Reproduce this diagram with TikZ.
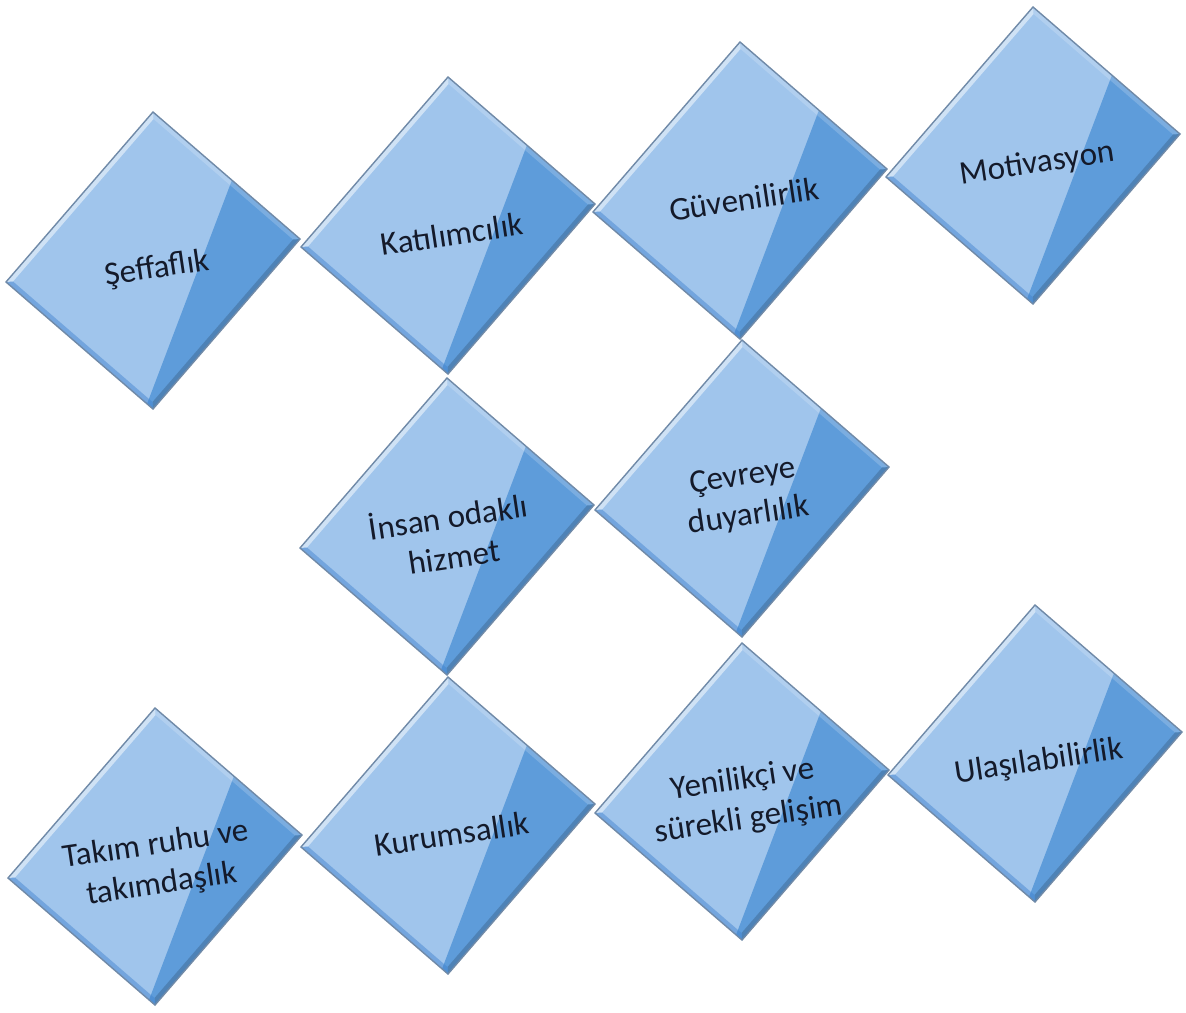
\documentclass[tikz,border=0pt]{standalone}
\usepackage{fontspec}
\setmainfont{Carlito}
\definecolor{lightfill}{RGB}{160,197,236}
\definecolor{darkfill}{RGB}{94,156,218}
\definecolor{edgecol}{RGB}{112,138,168}
\definecolor{bevelblue}{RGB}{62,128,205}
\definecolor{txtcol}{RGB}{20,26,42}
\tikzset{
  boxedge/.style={draw=edgecol,line width=1.4pt,line join=miter},
  lbl/.style={text=txtcol,font=\fontsize{33}{40}\selectfont,align=center,rotate=8.5,inner sep=0pt}
}
\newcommand{\diabox}[4]{%
\begin{scope}[shift={(#2,#3)}]
  \fill[lightfill] (0,0) -- (147,127) -- (0,297) -- (-147,170) -- cycle;
  \fill[darkfill] (79,68) -- (147,127) -- (0,297) -- (-6,292) -- cycle;
  % bevels
  \fill[white,opacity=0.5] (-147,170) -- (0,0) -- (0.5,7) -- (-140,169.5) -- cycle;
  \fill[white,opacity=0.18] (0,0) -- (147,127) -- (140,127.5) -- (0.5,7) -- cycle;
  \fill[black,opacity=0.16] (147,127) -- (0,297) -- (-0.5,290) -- (140,127.5) -- cycle;
  \fill[bevelblue,opacity=0.45] (0,297) -- (-147,170) -- (-140,169.5) -- (-0.5,290) -- cycle;
  \draw[boxedge] (0,0) -- (147,127) -- (0,297) -- (-147,170) -- cycle;
  \node[lbl] (#1) at (4,157) {#4};
\end{scope}}
\begin{document}
\begin{tikzpicture}[x=1pt,y=-1pt]
  \fill[white] (0,0) rectangle (1186,1012);
  \useasboundingbox (0,0) rectangle (1186,1012);
  \diabox{seffaflik}{153}{112}{Şeffaflık}
  \diabox{katilim}{448}{77}{Katılımcılık}
  \diabox{guven}{740}{42}{Güvenilirlik}
  \diabox{motiv}{1033}{7}{Motivasyon}
  \diabox{insan}{447}{378}{İnsan odaklı\\hizmet}
  \diabox{cevre}{742}{340}{Çevreye\\duyarlılık}
  \diabox{takim}{155}{708}{Takım ruhu ve\\takımdaşlık}
  \diabox{kurum}{448}{677}{Kurumsallık}
  \diabox{yenilik}{742}{643}{Yenilikçi ve\\sürekli gelişim}
  \diabox{ulas}{1035}{605}{Ulaşılabilirlik}
\end{tikzpicture}
\end{document}
